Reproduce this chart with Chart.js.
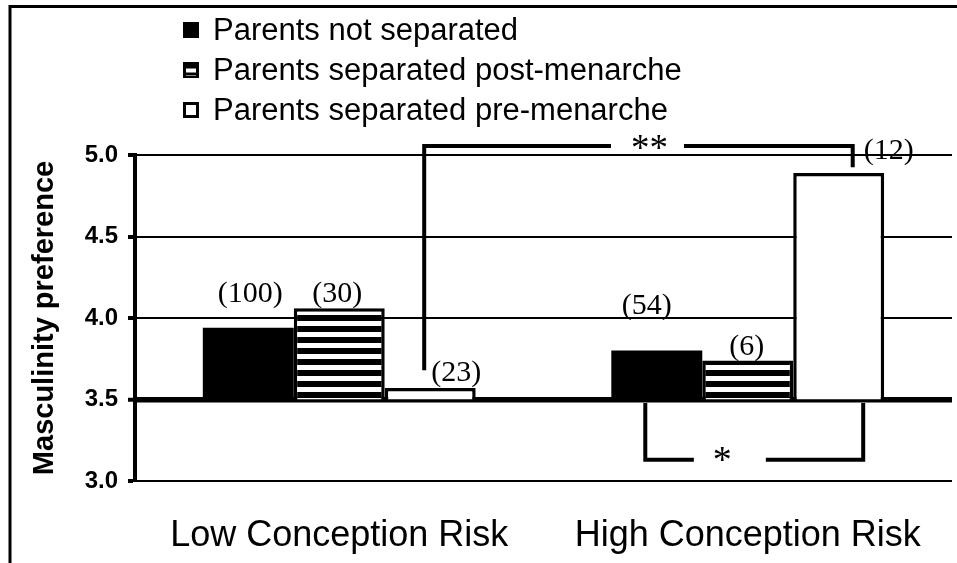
<!DOCTYPE html>
<html><head><meta charset="utf-8">
<script src="https://cdn.jsdelivr.net/npm/chart.js@4.4.0/dist/chart.umd.min.js"></script>
<style>html,body{margin:0;padding:0;background:#fff;overflow:hidden}#wrap{position:relative;width:957px;height:563px}</style>
</head><body><div id="wrap"><canvas id="c" width="957" height="563"></canvas></div>
<script>
// ---- data ----
const categories = ['Low Conception Risk', 'High Conception Risk'];
const seriesNames = ['Parents not separated', 'Parents separated post-menarche', 'Parents separated pre-menarche'];
const notSeparated = [3.94, 3.80];
const separatedPost = [4.06, 3.74];
const separatedPre = [3.57, 4.89];
const nNotSeparated = [100, 54];
const nSeparatedPost = [30, 6];
const nSeparatedPre = [23, 12];
const yTickValues = [3.0, 3.5, 4.0, 4.5, 5.0];
const baseValue = 3.5;
const yAxisTitle = 'Masculinity preference';
const sigLabels = ['**', '*'];

// ---- styles / layout ----
const SANS = '"Liberation Sans", Arial, sans-serif';
const SERIF = '"Liberation Serif", "Times New Roman", serif';
// label offsets (dx, dy from bar top centre) per dataset, per category
const labelOffsets = [
  [[2, -34], [-10, -44]],
  [[-2, -14], [-1, -13]],
  [[26, -15], [50, -22]]
];

const canvas = document.getElementById('c');
function stripePattern() {
  const c = document.createElement('canvas');
  c.width = 10; c.height = 11;
  const g = c.getContext('2d');
  g.fillStyle = '#000'; g.fillRect(0, 0, 10, 11);
  g.fillStyle = '#fff'; g.fillRect(0, 2, 10, 5);
  return canvas.getContext('2d').createPattern(c, 'repeat');
}
const stripes = stripePattern();
const counts = [nNotSeparated, nSeparatedPost, nSeparatedPre];

const overlay = {
  id: 'overlay',
  afterDraw(chart) {
    const ctx = chart.ctx;
    const ys = chart.scales.y;
    ctx.save();
    // frame
    ctx.strokeStyle = '#000'; ctx.lineWidth = 3;
    ctx.strokeRect(10, 6.5, 1000, 1000);

    // legend
    const rowsY = [30, 70, 110];
    chart.data.datasets.forEach((ds, i) => {
      const y = rowsY[i];
      const x = 183, s = 16;
      if (i === 0) {
        ctx.fillStyle = '#000'; ctx.fillRect(x, y - s / 2, s, s);
      } else if (i === 1) {
        ctx.fillStyle = '#000'; ctx.fillRect(x, y - s / 2, s, s);
        ctx.fillStyle = '#fff'; ctx.fillRect(x + 3, y - 1.5, s - 6, 4);
        ctx.fillStyle = '#888'; ctx.fillRect(x + 3, y + 5, s - 6, 1);
      } else {
        ctx.fillStyle = '#fff'; ctx.fillRect(x, y - s / 2, s, s);
        ctx.strokeStyle = '#000'; ctx.lineWidth = 3;
        ctx.strokeRect(x + 1.5, y - s / 2 + 1.5, s - 3, s - 3);
      }
      ctx.fillStyle = '#000';
      ctx.font = '31px ' + SANS;
      ctx.textAlign = 'left'; ctx.textBaseline = 'middle';
      ctx.fillText(ds.label, 213, y + 1);
    });

    // n labels
    ctx.font = '30px ' + SERIF;
    ctx.textAlign = 'center'; ctx.textBaseline = 'middle';
    ctx.fillStyle = '#000';
    chart.data.datasets.forEach((ds, i) => {
      const meta = chart.getDatasetMeta(i);
      meta.data.forEach((bar, j) => {
        const off = labelOffsets[i][j];
        ctx.fillText('(' + counts[i][j] + ')', bar.x + off[0], bar.y + off[1]);
      });
    });

    // significance brackets
    const mNot = chart.getDatasetMeta(0).data;
    const mPre = chart.getDatasetMeta(2).data;
    ctx.strokeStyle = '#000'; ctx.lineWidth = 4; ctx.lineJoin = 'miter'; ctx.lineCap = 'butt';
    function bracket(x1, x2, yEnd1, yEnd2, yBar, gapX, gap, label, textDx, fontSize, baseOff) {
      ctx.beginPath();
      ctx.moveTo(x1, yEnd1); ctx.lineTo(x1, yBar); ctx.lineTo(gapX - gap, yBar);
      ctx.moveTo(gapX + gap, yBar); ctx.lineTo(x2, yBar); ctx.lineTo(x2, yEnd2);
      ctx.stroke();
      ctx.font = fontSize + 'px ' + SERIF;
      ctx.textAlign = 'center'; ctx.textBaseline = 'alphabetic';
      ctx.fillText(label, gapX + textDx, yBar + baseOff);
    }
    // ** : low pre-menarche vs high pre-menarche
    {
      const x1 = mPre[0].x - 6, x2 = mPre[1].x + 14;
      const yBar = ys.getPixelForValue(5.055);
      bracket(x1, x2, ys.getPixelForValue(3.68), ys.getPixelForValue(4.925), yBar,
        x1 + 0.521 * (x2 - x1), 36.5, sigLabels[0], 2, 37, 14);
    }
    // * : high not separated vs high pre-menarche
    {
      const x1 = mNot[1].x - 11.5, x2 = mPre[1].x + 24.5;
      const yBar = ys.getPixelForValue(3.13);
      bracket(x1, x2, ys.getPixelForValue(3.478), ys.getPixelForValue(3.478), yBar,
        x1 + 0.388 * (x2 - x1), 36, sigLabels[1], -7.5, 38, 12);
    }
    ctx.restore();
  }
};

new Chart(canvas, {
  type: 'bar',
  data: {
    labels: categories,
    datasets: [
      { label: seriesNames[0], data: notSeparated.map(v => [baseValue, v]), backgroundColor: '#000', borderWidth: 0 },
      { label: seriesNames[1], data: separatedPost.map(v => [baseValue, v]), backgroundColor: stripes, borderColor: '#000', borderWidth: 3.5, borderSkipped: 'start' },
      { label: seriesNames[2], data: separatedPre.map(v => [baseValue, v]), backgroundColor: '#fff', borderColor: '#000', borderWidth: 3.5, borderSkipped: 'start' }
    ]
  },
  options: {
    responsive: false,
    animation: false,
    devicePixelRatio: 1,
    layout: { padding: { top: 155, right: 5, left: 0, bottom: 0 } },
    datasets: { bar: { categoryPercentage: 0.668, barPercentage: 1 } },
    plugins: { legend: { display: false }, tooltip: { enabled: false } },
    scales: {
      x: {
        grid: { display: false, drawTicks: false },
        border: { display: false },
        ticks: { color: '#000', font: { family: SANS, size: 36 }, padding: 33, maxRotation: 0, autoSkip: false },
        afterFit(s) { s.height = 82; }
      },
      y: {
        min: 3, max: 5,
        afterBuildTicks(s) { s.ticks = yTickValues.map(v => ({ value: v })); },
        ticks: { color: '#000', font: { family: SANS, weight: 'bold', size: 24 }, padding: 10, callback: v => Number(v).toFixed(1) },
        grid: { color: '#000', lineWidth: c => (c.tick && c.tick.value === baseValue ? 5.5 : 2), tickLength: 7, tickWidth: 4, tickColor: '#000' },
        border: { display: true, color: '#000', width: 4 },
        title: { display: true, text: yAxisTitle, color: '#000', font: { family: SANS, weight: 'bold', size: 29, lineHeight: 1 }, padding: { top: 30, bottom: 0 } },
        afterFit(s) { s.width = 135; }
      }
    }
  },
  plugins: [overlay]
});
</script>
</body></html>
